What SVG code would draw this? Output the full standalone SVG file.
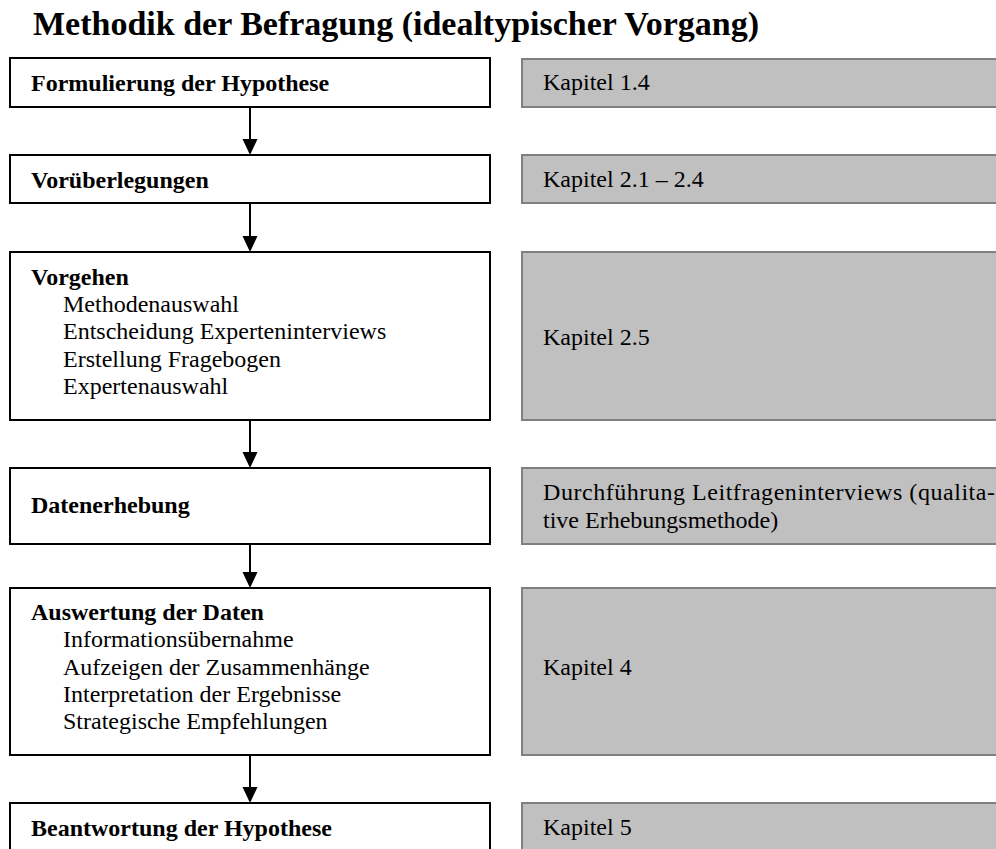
<svg xmlns="http://www.w3.org/2000/svg" width="996" height="849" viewBox="0 0 996 849">
<style>
text{font-family:"Liberation Serif","Times New Roman",serif;fill:#000}
.title{font-size:34px;font-weight:bold}
.b{font-size:24px;font-weight:bold}
.r{font-size:24px}
.box{fill:#fff;stroke:#000;stroke-width:2}
.gbox{fill:#c0c0c0;stroke:#808080;stroke-width:2}
.conn{stroke:#000;stroke-width:2;fill:none}
.head{fill:#000}
</style>
<rect width="996" height="849" fill="#fff"/>
<text class="title" x="33" y="35">Methodik der Befragung (idealtypischer Vorgang)</text>

<g id="node-formulierung"><rect class="box" x="10" y="58" width="480" height="49"/><text class="b" x="31" y="91">Formulierung der Hypothese</text></g>
<g id="note-kap14"><rect class="gbox" x="522" y="59" width="500" height="48"/><text class="r" x="543" y="90">Kapitel 1.4</text></g>

<g id="node-vorueberlegungen"><rect class="box" x="10" y="155" width="480" height="48"/><text class="b" x="31" y="188">Vorüberlegungen</text></g>
<g id="note-kap21"><rect class="gbox" x="522" y="155" width="500" height="48"/><text class="r" x="543" y="187">Kapitel 2.1 – 2.4</text></g>

<g id="node-vorgehen"><rect class="box" x="10" y="252" width="480" height="168"/>
<text class="b" x="31" y="285">Vorgehen</text>
<text class="r" x="63" y="312">Methodenauswahl</text>
<text class="r" x="63" y="339">Entscheidung Experteninterviews</text>
<text class="r" x="63" y="367">Erstellung Fragebogen</text>
<text class="r" x="63" y="394">Expertenauswahl</text></g>
<g id="note-kap25"><rect class="gbox" x="522" y="252" width="500" height="168"/><text class="r" x="543" y="345">Kapitel 2.5</text></g>

<g id="node-datenerhebung"><rect class="box" x="10" y="468" width="480" height="76"/><text class="b" x="31" y="513">Datenerhebung</text></g>
<g id="note-durchfuehrung"><rect class="gbox" x="522" y="468" width="500" height="76"/>
<text class="r" x="543" y="500" textLength="452" lengthAdjust="spacing">Durchführung Leitfrageninterviews (qualita-</text>
<text class="r" x="543" y="528">tive Erhebungsmethode)</text></g>

<g id="node-auswertung"><rect class="box" x="10" y="588" width="480" height="167"/>
<text class="b" x="31" y="620">Auswertung der Daten</text>
<text class="r" x="63" y="647">Informationsübernahme</text>
<text class="r" x="63" y="675">Aufzeigen der Zusammenhänge</text>
<text class="r" x="63" y="702">Interpretation der Ergebnisse</text>
<text class="r" x="63" y="729">Strategische Empfehlungen</text></g>
<g id="note-kap4"><rect class="gbox" x="522" y="588" width="500" height="167"/><text class="r" x="543" y="675">Kapitel 4</text></g>

<g id="node-beantwortung"><rect class="box" x="10" y="803" width="480" height="80"/><text class="b" x="31" y="836">Beantwortung der Hypothese</text></g>
<g id="note-kap5"><rect class="gbox" x="522" y="803" width="500" height="80"/><text class="r" x="543" y="835">Kapitel 5</text></g>

<g id="connectors">
<line class="conn" x1="250" y1="107" x2="250" y2="140"/><polygon class="head" points="242.5,139 257.5,139 250,155"/>
<line class="conn" x1="250" y1="203" x2="250" y2="237"/><polygon class="head" points="242.5,236 257.5,236 250,252"/>
<line class="conn" x1="250" y1="420" x2="250" y2="453"/><polygon class="head" points="242.5,452 257.5,452 250,468"/>
<line class="conn" x1="250" y1="544" x2="250" y2="573"/><polygon class="head" points="242.5,572 257.5,572 250,588"/>
<line class="conn" x1="250" y1="755" x2="250" y2="788"/><polygon class="head" points="242.5,787 257.5,787 250,803"/>
</g>
</svg>
